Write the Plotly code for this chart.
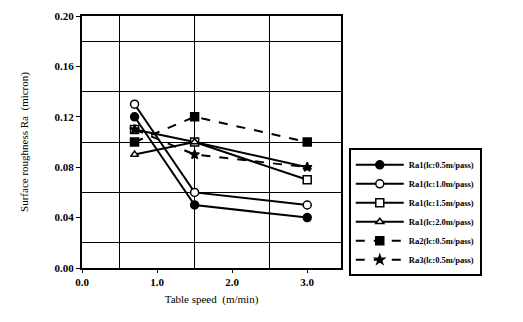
import plotly.graph_objects as go

speed = [0.7, 1.5, 3.0]
ra1_05 = [0.12, 0.05, 0.04]
ra1_10 = [0.13, 0.06, 0.05]
ra1_15 = [0.11, 0.10, 0.07]
ra1_20 = [0.09, 0.10, 0.08]
ra2_05 = [0.10, 0.12, 0.10]
ra3_05 = [0.11, 0.09, 0.08]

names = ["Ra1(lc:0.5m/pass)", "Ra1(lc:1.0m/pass)", "Ra1(lc:1.5m/pass)",
         "Ra1(lc:2.0m/pass)", "Ra2(lc:0.5m/pass)", "Ra3(lc:0.5m/pass)"]
x_ticks = [0.0, 1.0, 2.0, 3.0]
x_tick_text = ["0.0", "1.0", "2.0", "3.0"]
y_ticks = [0.00, 0.04, 0.08, 0.12, 0.16, 0.20]
y_tick_text = ["0.00", "0.04", "0.08", "0.12", "0.16", "0.20"]

series = [
    (ra1_05, "circle", "black", "solid", 8),
    (ra1_10, "circle", "white", "solid", 8),
    (ra1_15, "square", "white", "solid", 8),
    (ra1_20, "triangle-up", "white", "solid", 7),
    (ra2_05, "square", "black", "dash", 8),
    (ra3_05, "star", "black", "dash", 7),
]

fig = go.Figure()
for (vals, sym, fill, dash, sz), nm in zip(series, names):
    fig.add_trace(go.Scatter(
        x=speed, y=vals, name=nm, mode="lines+markers",
        line=dict(color="black", width=2, dash=dash),
        marker=dict(symbol=sym, size=sz, color=fill,
                    line=dict(color="black", width=1.5)),
    ))

serif = "Liberation Serif, DejaVu Serif, serif"
fig.update_layout(
    width=523, height=322,
    margin=dict(l=74, r=190, t=2, b=62),
    paper_bgcolor="white", plot_bgcolor="white",
    font=dict(family=serif, color="black"),
    showlegend=True,
    legend=dict(x=1.03, y=0.475, xanchor="left", yanchor="top",
                bordercolor="black", borderwidth=2, bgcolor="white",
                font=dict(size=8.5, family=serif, color="black", weight="bold"),
                itemwidth=48, tracegroupgap=0),
    xaxis=dict(range=[0, 3.45], tickvals=x_ticks, ticktext=x_tick_text,
               showgrid=False, showline=True, linecolor="black", linewidth=2,
               mirror=True, ticks="outside", ticklen=3, tickcolor="black",
               tickfont=dict(size=11, family=serif, weight="bold"),
               ticklabeloverflow="allow",
               minor=dict(tickvals=[0.5, 1.5, 2.5], showgrid=True, gridcolor="black",
                          gridwidth=1.2, ticks=""),
               title=dict(text="Table speed  (m/min)", font=dict(size=11, family=serif),
                          standoff=8),
               zeroline=False),
    yaxis=dict(range=[0, 0.2], tickvals=y_ticks, ticktext=y_tick_text,
               showgrid=False, showline=True, linecolor="black", linewidth=2,
               mirror=True, ticks="outside", ticklen=4, tickcolor="black",
               tickfont=dict(size=11, family=serif, weight="bold"),
               ticklabeloverflow="allow",
               minor=dict(tickvals=[0.02, 0.06, 0.10, 0.14, 0.18], showgrid=True,
                          gridcolor="black", gridwidth=1.2, ticks=""),
               title=dict(text="Surface roughness Ra  (micron)", font=dict(size=11, family=serif),
                          standoff=24),
               zeroline=False),
)

fig.write_html("out.html")
